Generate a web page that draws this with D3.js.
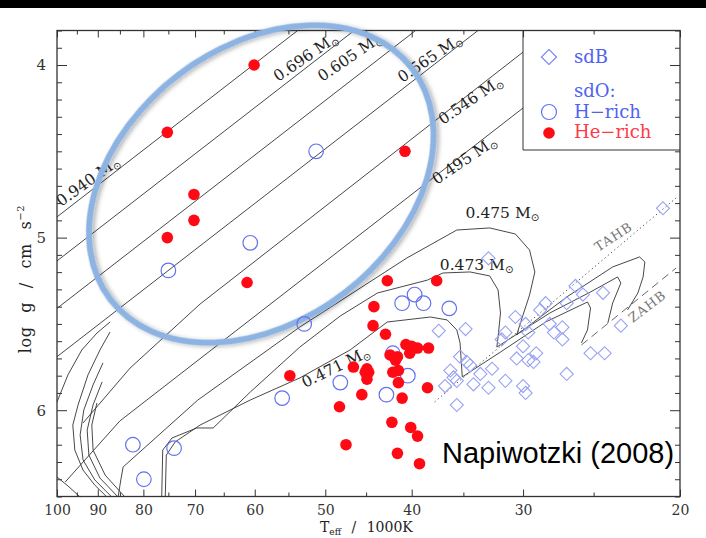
<!DOCTYPE html>
<html>
<head>
<meta charset="utf-8">
<script src="https://cdn.jsdelivr.net/npm/d3@7/dist/d3.min.js"></script>
<style>
  body { margin: 0; background: #fff; }
  svg { display: block; }
</style>
</head>
<body>
<script>
// log g vs Teff diagram of hot subdwarfs (after Napiwotzki 2008)

// [Teff / 1000K, log g]
var sdB = [
  [20.9, 4.83], [32.8, 5.12], [26.2, 5.28], [24.4, 5.32], [25.7, 5.33], [28.3, 5.38],
  [26.8, 5.38], [28.7, 5.42], [30.6, 5.46], [23.3, 5.51], [37.3, 5.54], [34.8, 5.53],
  [29.8, 5.50], [28.0, 5.50], [27.1, 5.52], [31.4, 5.55], [29.6, 5.55], [27.7, 5.55],
  [27.1, 5.59], [31.7, 5.59], [30.0, 5.63], [25.2, 5.67], [24.3, 5.67], [29.0, 5.67],
  [30.5, 5.70], [29.6, 5.71], [29.2, 5.72], [35.3, 5.69], [34.7, 5.72], [34.4, 5.74],
  [32.5, 5.76], [36.2, 5.77], [33.5, 5.79], [35.9, 5.81], [35.6, 5.83], [36.7, 5.86],
  [26.8, 5.79], [31.4, 5.83], [34.1, 5.85], [32.8, 5.87], [30.0, 5.86], [29.8, 5.90],
  [35.6, 5.97]
];

var hRich = [
  [51.2, 4.50], [60.7, 5.03], [75.0, 5.19], [52.8, 5.50], [41.0, 5.38], [39.7, 5.33],
  [38.8, 5.38], [36.3, 5.41], [42.0, 5.67], [40.4, 5.80], [48.1, 5.84], [42.7, 5.91],
  [55.9, 5.93], [82.2, 6.20], [73.9, 6.22], [79.9, 6.40]
];

var heRich = [
  [60.1, 4.00], [75.2, 4.39], [70.2, 4.75], [70.2, 4.90], [75.2, 5.00], [61.2, 5.26],
  [40.7, 4.50], [42.6, 5.25], [37.5, 5.25], [44.1, 5.40], [44.2, 5.51], [42.8, 5.56],
  [40.6, 5.62], [40.0, 5.63], [39.4, 5.64], [38.3, 5.64], [40.2, 5.67], [42.3, 5.68],
  [41.5, 5.69], [41.7, 5.71], [46.5, 5.75], [44.9, 5.76], [44.7, 5.78], [45.1, 5.78],
  [42.0, 5.78], [41.4, 5.77], [44.9, 5.82], [54.8, 5.80], [41.4, 5.84], [38.4, 5.87],
  [45.5, 5.91], [41.0, 5.93], [48.2, 5.98], [42.1, 6.07], [40.1, 6.10], [39.4, 6.15],
  [47.4, 6.20], [41.5, 6.25], [39.2, 6.31]
];

// evolutionary tracks
var track940 = [[100, 4.88], [53.7, 3.80]];
var track696 = [[100, 5.135], [46.4, 3.80]];
var track605 = [[100, 5.41], [39.6, 3.80]];
var track565 = [[100, 5.69], [33.7, 3.80]];
var track546 = [[93.5, 6.074], [82.8, 5.756], [69.1, 5.385], [30.0, 3.925]];
var track495 = [[97.9, 6.416], [85.0, 6.062], [30.0, 4.249]];

var track475 = [
  [85.4, 6.503], [84.8, 6.404], [84.3, 6.329], [69.5, 5.941], [53.4, 5.518], [40.5, 5.118],
  [35.6, 4.956], [32.7, 4.944], [30.6, 4.979], [29.5, 5.072], [29.1, 5.199], [29.5, 5.333],
  [30.0, 5.448], [30.5, 5.564], [26.8, 5.344], [23.8, 5.170], [22.2, 5.112], [21.9, 5.141],
  [22.0, 5.228], [22.3, 5.321], [22.9, 5.419]
];
var track473 = [
  [76.3, 6.503], [76.1, 6.231], [74.3, 6.161], [69.7, 6.103], [66.8, 6.103], [60.7, 5.895],
  [53.4, 5.634], [48.1, 5.454], [43.7, 5.321], [38.4, 5.246], [36.9, 5.205], [34.4, 5.199],
  [32.7, 5.222], [32.0, 5.303], [31.8, 5.437], [32.0, 5.576], [32.1, 5.634], [28.0, 5.437],
  [25.2, 5.315], [23.5, 5.228], [23.3, 5.263], [23.8, 5.379], [24.1, 5.495]
];
var track471 = [
  [75.6, 6.503], [75.4, 6.260], [73.7, 6.184], [69.1, 6.086], [60.7, 5.941], [53.4, 5.813],
  [46.9, 5.651], [42.6, 5.489], [38.1, 5.460], [36.5, 5.477], [35.6, 5.535], [35.3, 5.610],
  [35.1, 5.807], [31.8, 5.663], [28.3, 5.489], [25.4, 5.373], [25.2, 5.408], [25.4, 5.535],
  [25.8, 5.610]
];

// white dwarf cooling sequences, lower left
var cooling = [
  [[100, 5.952], [97.2, 5.795], [93.8, 5.651], [90.2, 5.553], [87.2, 5.489]],
  [[87.2, 5.547], [89.5, 5.651], [92.3, 5.795], [94.7, 5.969], [96.0, 6.086], [95.5, 6.231],
   [93.5, 6.347], [90.7, 6.434], [87.9, 6.503]],
  [[88.8, 5.726], [91.1, 5.853], [93.3, 5.998], [94.2, 6.143], [93.5, 6.288], [90.7, 6.404],
   [86.8, 6.503]],
  [[89.0, 5.836], [91.1, 5.969], [92.5, 6.115], [92.1, 6.260], [89.5, 6.393], [85.4, 6.503]],
  [[90.2, 5.958], [91.4, 6.086], [91.1, 6.231], [88.3, 6.376], [83.9, 6.503]],
  [[100, 6.387], [97.2, 6.439], [94.2, 6.503]]
];

var tahb = [[37.7, 5.952], [20.2, 4.770]];
var zahb = [[25.8, 5.622], [20.2, 5.176]];

// track labels: mass, position of text start, angle
var massLabels = [
  {m: "0.940", t: 98.9, g: 4.823, a: -36},
  {m: "0.696", t: 56.5, g: 4.098, a: -34},
  {m: "0.605", t: 50.4, g: 4.098, a: -34},
  {m: "0.565", t: 41.0, g: 4.104, a: -34},
  {m: "0.546", t: 36.9, g: 4.347, a: -34},
  {m: "0.495", t: 37.5, g: 4.695, a: -34},
  {m: "0.475", t: 34.8, g: 4.886, a: 0},
  {m: "0.473", t: 37.2, g: 5.188, a: 0},
  {m: "0.471", t: 52.7, g: 5.871, a: -26}
];
var branchLabels = [
  {s: "TAHB", t: 24.7, g: 5.083, a: -33},
  {s: "ZAHB", t: 22.6, g: 5.495, a: -37}
];

var xMajor = [100, 90, 80, 70, 60, 50, 40, 30, 20];
var xMinor = [95, 85, 75, 65, 55, 45, 35, 25];
var yMajor = [4, 5, 6];
var yMinor = d3.range(38, 66).map(function(d) { return d / 10; })
  .filter(function(d) { return yMajor.indexOf(d) < 0; });

var halo = {t: 59.0, g: 4.689};

var width = 706;
var height = 538;
var serif = "DejaVu Serif, serif";

var svg = d3.select("body")
  .append("svg")
  .attr("width", width)
  .attr("height", height);

svg.append("rect").attr("width", width).attr("height", height).attr("fill", "#fff");
svg.append("rect").attr("width", width).attr("height", 8).attr("fill", "#000");

var defs = svg.append("defs");
var f = defs.append("filter").attr("id", "shadow")
  .attr("x", "-20%").attr("y", "-20%").attr("width", "140%").attr("height", "140%");
f.append("feDropShadow").attr("dx", 1.5).attr("dy", 2.5).attr("stdDeviation", 2)
  .attr("flood-color", "#000").attr("flood-opacity", 0.3);

var x = d3.scaleLog().domain([100, 20]).range([57, 680]);
var y = d3.scaleLinear().domain([3.8, 6.5]).range([30.5, 496.5]);

var line = d3.line()
  .x(function(d) { return x(d[0]); })
  .y(function(d) { return y(d[1]); });

function axisStyle(sel) {
  sel.attr("font-family", serif).attr("font-size", 14).attr("color", "#333");
  sel.select(".domain").remove();
  sel.selectAll(".tick line").attr("stroke-width", 1);
}

// bottom / top axes
svg.append("g")
  .attr("transform", "translate(0," + y(6.5) + ")")
  .call(d3.axisBottom(x).tickValues(xMajor).tickSize(-7).tickPadding(9).tickFormat(d3.format("d")))
  .call(axisStyle);
svg.append("g")
  .attr("transform", "translate(0," + y(6.5) + ")")
  .call(d3.axisBottom(x).tickValues(xMinor).tickSize(-4).tickFormat(""))
  .call(axisStyle);
svg.append("g")
  .attr("transform", "translate(0," + y(3.8) + ")")
  .call(d3.axisTop(x).tickValues(xMajor).tickSize(-7).tickFormat(""))
  .call(axisStyle);
svg.append("g")
  .attr("transform", "translate(0," + y(3.8) + ")")
  .call(d3.axisTop(x).tickValues(xMinor).tickSize(-4).tickFormat(""))
  .call(axisStyle);

// left / right axes
svg.append("g")
  .attr("transform", "translate(" + x(100) + ",0)")
  .call(d3.axisLeft(y).tickValues(yMajor).tickSize(-10).tickPadding(11).tickFormat(d3.format("d")))
  .call(axisStyle)
  .attr("font-size", 15);
svg.append("g")
  .attr("transform", "translate(" + x(100) + ",0)")
  .call(d3.axisLeft(y).tickValues(yMinor).tickSize(-5).tickFormat(""))
  .call(axisStyle);
svg.append("g")
  .attr("transform", "translate(" + x(20) + ",0)")
  .call(d3.axisRight(y).tickValues(yMajor).tickSize(-10).tickFormat(""))
  .call(axisStyle);
svg.append("g")
  .attr("transform", "translate(" + x(20) + ",0)")
  .call(d3.axisRight(y).tickValues(yMinor).tickSize(-5).tickFormat(""))
  .call(axisStyle);

svg.append("rect")
  .attr("x", x(100)).attr("y", y(3.8))
  .attr("width", x(20) - x(100)).attr("height", y(6.5) - y(3.8))
  .attr("fill", "none").attr("stroke", "#333").attr("stroke-width", 1.3);

// axis titles
var xt = svg.append("text")
  .attr("x", 320).attr("y", 532)
  .attr("font-family", serif).attr("font-size", 14).attr("fill", "#222")
  .attr("word-spacing", 6);
xt.append("tspan").text("T");
xt.append("tspan").attr("font-size", 9).attr("dy", 3).text("eff");
xt.append("tspan").attr("dy", -3).text(" / 1000K");

var yt = svg.append("text")
  .attr("transform", "translate(31,279) rotate(-90)")
  .attr("text-anchor", "middle")
  .attr("font-family", serif).attr("font-size", 16).attr("fill", "#222")
  .attr("word-spacing", 8).attr("letter-spacing", 0.6);
yt.append("tspan").text("log g / cm s");
yt.append("tspan").attr("font-size", 10).attr("dy", -7).text("−2");

// tracks
var g = svg.append("g")
  .attr("fill", "none")
  .attr("stroke", "#333")
  .attr("stroke-width", 0.9)
  .attr("stroke-linejoin", "round");

[track940, track696, track605, track565, track546, track495, track475, track473, track471]
  .forEach(function(tr) {
    g.append("path").datum(tr).attr("d", line);
  });
cooling.forEach(function(tr) {
  g.append("path").datum(tr).attr("d", line);
});
g.append("path").datum(tahb).attr("d", line).attr("stroke-dasharray", "1.2,3");
g.append("path").datum(zahb).attr("d", line).attr("stroke-dasharray", "8,5").attr("stroke", "#555");

// mass labels
massLabels.forEach(function(d) {
  var t = svg.append("text")
    .attr("transform", "translate(" + x(d.t) + "," + y(d.g) + ") rotate(" + d.a + ")")
    .attr("font-family", serif).attr("font-size", 15.5).attr("fill", "#222");
  t.append("tspan").text(d.m + " M");
  t.append("tspan").attr("font-family", "DejaVu Sans, sans-serif")
    .attr("font-size", 10).attr("dy", 3).text("⊙");
});
branchLabels.forEach(function(d) {
  svg.append("text")
    .attr("transform", "translate(" + x(d.t) + "," + y(d.g) + ") rotate(" + d.a + ")")
    .attr("font-family", serif).attr("font-size", 13).attr("letter-spacing", 1)
    .attr("fill", "#777").text(d.s);
});

// legend box
svg.append("path")
  .attr("d", "M523,30.5V150H680")
  .attr("fill", "none").attr("stroke", "#333").attr("stroke-width", 1);

// highlighted group
var cx = x(halo.t), cy = y(halo.g);
svg.append("ellipse")
  .attr("cx", cx).attr("cy", cy).attr("rx", 190).attr("ry", 137)
  .attr("transform", "rotate(-37.5," + cx + "," + cy + ")")
  .attr("fill", "none").attr("stroke", "#8db3e2").attr("stroke-width", 6)
  .attr("filter", "url(#shadow)");

// stars
var diamond = d3.symbol().type(d3.symbolSquare).size(86);
svg.append("g").selectAll("path")
  .data(sdB).enter().append("path")
  .attr("d", diamond)
  .attr("transform", function(d) { return "translate(" + x(d[0]) + "," + y(d[1]) + ") rotate(45)"; })
  .attr("fill", "none").attr("stroke", "#98a3f2").attr("stroke-width", 1.1);

svg.append("g").selectAll("circle")
  .data(hRich).enter().append("circle")
  .attr("cx", function(d) { return x(d[0]); })
  .attr("cy", function(d) { return y(d[1]); })
  .attr("r", 7.3)
  .attr("fill", "none").attr("stroke", "#6272f0").attr("stroke-width", 1.2);

svg.append("g").selectAll("circle")
  .data(heRich).enter().append("circle")
  .attr("cx", function(d) { return x(d[0]); })
  .attr("cy", function(d) { return y(d[1]); })
  .attr("r", 5.8)
  .attr("fill", "#ff0a14");

// legend
var leg = svg.append("g").attr("font-family", serif).attr("font-size", 18);
leg.append("path").attr("d", d3.symbol().type(d3.symbolSquare).size(112))
  .attr("transform", "translate(549,57) rotate(45)")
  .attr("fill", "none").attr("stroke", "#6f7cf2").attr("stroke-width", 1.1);
leg.append("circle").attr("cx", 549).attr("cy", 112).attr("r", 7.5)
  .attr("fill", "none").attr("stroke", "#6272f0").attr("stroke-width", 1.2);
leg.append("circle").attr("cx", 549).attr("cy", 133).attr("r", 5.8).attr("fill", "#ff0a14");
leg.append("text").attr("x", 574).attr("y", 63).attr("fill", "#5062f0").text("sdB");
leg.append("text").attr("x", 574).attr("y", 97).attr("fill", "#5062f0").text("sdO:");
leg.append("text").attr("x", 574).attr("y", 118).attr("fill", "#5062f0").text("H−rich");
leg.append("text").attr("x", 574).attr("y", 138).attr("fill", "#ff3a48").text("He−rich");

// reference
svg.append("text")
  .attr("x", 442).attr("y", 463)
  .attr("font-family", "Liberation Sans, Arial, sans-serif").attr("font-size", 29)
  .attr("fill", "#000")
  .text("Napiwotzki (2008)");
</script>
</body>
</html>
